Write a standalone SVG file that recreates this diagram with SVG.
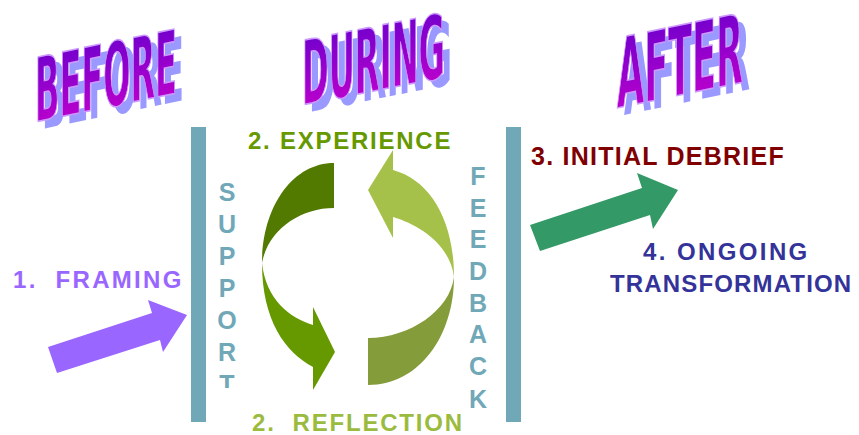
<svg xmlns="http://www.w3.org/2000/svg" width="859" height="435" viewBox="0 0 859 435">
<style>
.t{font-family:"Liberation Sans",Arial,sans-serif;font-weight:bold;font-size:24px}
.side{font-family:"Liberation Sans",Arial,sans-serif;font-weight:bold;font-size:25px;fill:#70A8B8;text-anchor:middle}
.bar{fill:#70A8B8}
.wa{font-family:"Liberation Sans Narrow","DejaVu Sans Condensed","Liberation Sans",sans-serif;font-weight:bold;font-stretch:condensed;font-size:30px}
.wam{fill:url(#wg);stroke:#CC99FF;stroke-width:1.2;vector-effect:non-scaling-stroke}
.was{fill:#9999FF}
</style>
<defs>
<linearGradient id="wg" x1="0" y1="0" x2="0" y2="1">
<stop offset="0" stop-color="#6600CC"/>
<stop offset="1" stop-color="#CC00CC"/>
</linearGradient>
<clipPath id="supclip"><rect x="200" y="160" width="60" height="228"/></clipPath>
</defs>

<g id="before">
<text class="wa was" transform="translate(42,129) skewY(-11.5) scale(1,2.95)" textLength="142" lengthAdjust="spacingAndGlyphs">BEFORE</text>
<text class="wa wam" transform="translate(35,122) skewY(-11.5) scale(1,2.95)" textLength="142" lengthAdjust="spacingAndGlyphs">BEFORE</text>
</g>
<g id="during">
<text class="wa was" transform="translate(309,112) skewY(-11.1) scale(1,2.95)" textLength="143" lengthAdjust="spacingAndGlyphs">DURING</text>
<text class="wa wam" transform="translate(302,105) skewY(-11.1) scale(1,2.95)" textLength="143" lengthAdjust="spacingAndGlyphs">DURING</text>
</g>
<g id="after">
<text class="wa was" transform="translate(624,115) skewY(-11.6) scale(1,3.2)" textLength="126" lengthAdjust="spacingAndGlyphs">AFTER</text>
<text class="wa wam" transform="translate(617,108) skewY(-11.6) scale(1,3.2)" textLength="126" lengthAdjust="spacingAndGlyphs">AFTER</text>
</g>

<g id="support">
<rect class="bar" x="191" y="127" width="15" height="295"/>
<g clip-path="url(#supclip)">
<text class="side" x="227" y="201">S</text>
<text class="side" x="227" y="233">U</text>
<text class="side" x="227" y="265">P</text>
<text class="side" x="227" y="297">P</text>
<text class="side" x="227" y="329">O</text>
<text class="side" x="227" y="361">R</text>
<text class="side" x="227" y="393">T</text>
</g>
</g>

<g id="feedback">
<rect class="bar" x="506" y="127" width="15" height="295"/>
<text class="side" x="478" y="185">F</text>
<text class="side" x="478" y="216.5">E</text>
<text class="side" x="478" y="248">E</text>
<text class="side" x="478" y="280">D</text>
<text class="side" x="478" y="311.5">B</text>
<text class="side" x="478" y="343">A</text>
<text class="side" x="478" y="375">C</text>
<text class="side" x="478" y="408">K</text>
</g>

<g id="experience">
<text class="t" x="248" y="149" fill="#669900" letter-spacing="1.75">2. EXPERIENCE</text>
</g>
<g id="reflection">
<text class="t" x="252" y="431" fill="#9BBB3F" letter-spacing="1.8" xml:space="preserve">2.  REFLECTION</text>
</g>
<g id="framing">
<text class="t" x="13" y="288" fill="#9966FF" letter-spacing="2.3" xml:space="preserve">1.  FRAMING</text>
</g>
<g id="debrief">
<text class="t" x="531" y="165" fill="#800000" style="font-size:25px" letter-spacing="1.25">3. INITIAL DEBRIEF</text>
</g>
<g id="ongoing">
<text class="t" x="643" y="260" fill="#333399" letter-spacing="2.4">4. ONGOING</text>
<text class="t" x="610" y="292" fill="#333399" letter-spacing="1.15">TRANSFORMATION</text>
</g>

<g id="cycle">
<path fill="#527A00" d="M334 163 L334 208 C300 208 268 230 262 263 C262 208 292 163 334 163 Z"/>
<path fill="#669900" d="M262 263 C262 320 285 352 313 367 L313 390 L335 352 L313 307 L313 325 C290 318 266 300 262 263 Z"/>
<path fill="#849C3A" d="M368 338 L368 385 C420 385 454 335 454 277 C450 310 410 338 368 338 Z"/>
<path fill="#A5C14A" d="M454 277 C454 220 430 180 393 170 L393 150 L368 190 L393 238 L393 217 C420 225 450 245 454 277 Z"/>
</g>

<g id="connectors">
<polygon fill="#9966FF" points="48,347 152,313 148,300 187,315 163,352 160,340 57,373"/>
<polygon fill="#339966" points="530,225 642,188 637,173 678,190 653,229 650,215 540,251"/>
</g>
</svg>
